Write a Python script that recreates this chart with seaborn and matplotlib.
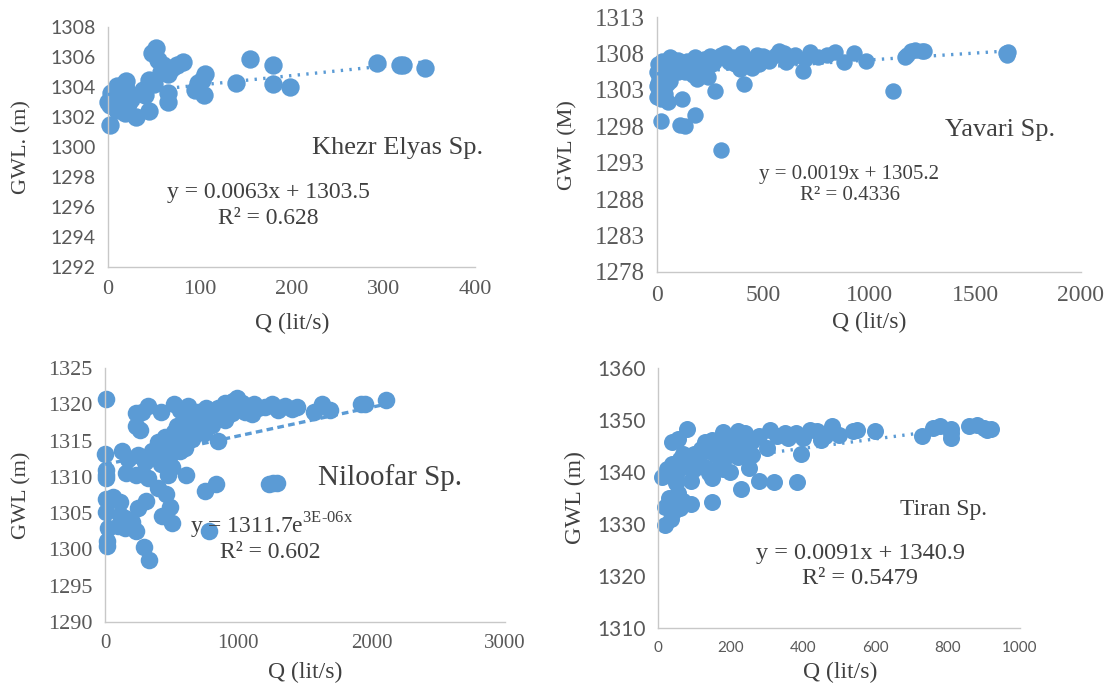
import numpy as np
import pandas as pd
import matplotlib.pyplot as plt
import seaborn as sns

# Khezr Elyas spring
kh_q = [2, 0, 2, 5, 8, 10, 12, 15, 18, 20, 22, 8, 13, 18, 20, 25, 3, 16, 10, 30,
        45, 38, 40, 45, 50, 48, 52, 55, 60, 58, 62, 65, 70, 75, 82, 65, 65, 95, 98, 102,
        106, 105, 140, 155, 180, 180, 198, 293, 318, 322, 345]
kh_gwl = [1301.5, 1303.0, 1302.8, 1303.3, 1303.8, 1304.1, 1303.5, 1302.6, 1304.3, 1303.9,
          1302.9, 1302.7, 1303.0, 1302.3, 1304.4, 1303.2, 1303.6, 1303.7, 1302.5, 1302.0,
          1302.4, 1303.8, 1303.5, 1304.5, 1304.2, 1306.3, 1306.6, 1305.8, 1305.5, 1305.0,
          1305.2, 1304.9, 1305.3, 1305.5, 1305.7, 1303.6, 1303.0, 1303.8, 1304.3, 1304.5,
          1304.9, 1303.5, 1304.3, 1305.9, 1305.5, 1304.2, 1304.0, 1305.6, 1305.5, 1305.5,
          1305.3]

# Yavari spring
yv_q = [0, 5, 10, 15, 20, 25, 30, 40, 40, 50, 60, 60, 70, 80, 90, 100, 110, 120, 130, 140,
        150, 160, 170, 180, 190, 200, 210, 220, 230, 240, 250, 260, 270, 280, 300, 320, 330,
        340, 360, 370, 390, 400, 410, 430, 450, 460, 470, 480, 500, 520, 530, 560, 575, 600,
        610, 640, 650, 690, 700, 720, 760, 800, 840, 880, 930, 985, 1115, 1170, 1180, 1200,
        1215, 1250, 1260, 1645, 1650, 1655, 0, 0, 10, 20, 30, 50, 40, 60, 120, 20, 110, 130,
        180, 300, 275, 15, 25, 5, 10, 30, 45, 70, 100, 20]
yv_gwl = [1305.5, 1304.0, 1306.0, 1305.5, 1305.0, 1307.0, 1304.5, 1306.8, 1306.0, 1305.5,
          1306.5, 1307.5, 1307.3, 1306.0, 1306.0, 1307.1, 1306.3, 1305.8, 1305.5, 1307.0,
          1306.5, 1306.2, 1305.0, 1307.5, 1304.5, 1306.8, 1305.8, 1307.2, 1306.2, 1304.8,
          1307.6, 1306.5, 1306.8, 1307.2, 1307.8, 1308.0, 1307.2, 1306.8, 1307.5, 1306.5,
          1305.8, 1308.0, 1303.8, 1307.0, 1306.0, 1307.2, 1307.8, 1306.5, 1307.6, 1307.4,
          1307.0, 1307.8, 1308.3, 1308.1, 1306.8, 1307.5, 1307.8, 1305.6, 1307.3, 1308.2,
          1307.5, 1307.8, 1308.2, 1306.8, 1308.0, 1307.0, 1302.9, 1307.5, 1307.8, 1308.4,
          1308.5, 1308.4, 1308.3, 1308.0, 1307.8, 1308.2, 1303.5, 1302.0, 1302.8, 1301.8,
          1303.2, 1301.4, 1302.5, 1304.2, 1301.8, 1298.7, 1298.2, 1298.0, 1299.5, 1294.8,
          1302.9, 1306.5, 1305.8, 1306.5, 1304.8, 1306.2, 1303.8, 1305.2, 1305.5, 1303.5]

# Niloofar spring
nl_q = [5, 2, 5, 5, 5, 10, 60, 40, 110, 5, 110, 150, 200, 100, 20, 150, 230, 15, 15, 290,
        330, 310, 250, 430, 490, 500, 400, 460, 780, 750, 830, 1230, 1260, 1290, 160, 230,
        320, 470, 500, 610, 130, 170, 250, 300, 350, 400, 430, 450, 500, 520, 550, 580, 600,
        650, 700, 720, 760, 800, 850, 870, 900, 950, 230, 260, 230, 280, 320, 420, 520, 560,
        620, 700, 760, 850, 900, 960, 990, 1000, 1050, 1100, 1150, 1200, 1250, 1300, 1350,
        1400, 1440, 1570, 1630, 1690, 1920, 1950, 2110, 380, 460, 560, 620, 680, 420, 340,
        480, 540, 640, 740, 810, 1030, 1120]
nl_gwl = [1320.7, 1313.2, 1311.0, 1310.3, 1309.8, 1307.0, 1307.2, 1306.8, 1306.5, 1305.2,
          1304.8, 1304.3, 1303.8, 1303.2, 1303.0, 1303.0, 1302.5, 1301.2, 1300.5, 1300.4,
          1298.5, 1306.7, 1305.7, 1304.6, 1305.8, 1303.7, 1308.4, 1307.6, 1302.6, 1308.1,
          1309.0, 1309.0, 1309.1, 1309.1, 1310.5, 1310.3, 1309.8, 1310.2, 1311.3, 1310.3,
          1313.5, 1312.5, 1313.0, 1312.0, 1313.5, 1314.8, 1312.5, 1315.5, 1314.5, 1316.2,
          1315.3, 1316.8, 1314.0, 1315.2, 1316.5, 1317.5, 1318.0, 1317.2, 1315.0, 1318.5,
          1317.8, 1318.8, 1317.0, 1316.5, 1318.8, 1319.0, 1319.8, 1318.9, 1320.0, 1319.2,
          1319.8, 1319.0, 1319.5, 1319.5, 1320.2, 1320.5, 1320.8, 1319.8, 1319.0, 1318.7,
          1319.5, 1319.6, 1320.0, 1319.2, 1319.8, 1319.3, 1319.6, 1318.9, 1320.0, 1319.2,
          1320.0, 1320.1, 1320.6, 1313.0, 1313.8, 1313.5, 1317.5, 1318.2, 1311.8, 1312.8,
          1312.8, 1317.0, 1318.5, 1316.0, 1318.8, 1320.2, 1320.0]

# Tiran spring
tr_q = [20, 20, 30, 35, 45, 40, 60, 70, 90, 150, 55, 50, 10, 25, 40, 50, 60, 70, 80, 90,
        100, 110, 120, 130, 140, 150, 160, 170, 180, 190, 200, 220, 230, 250, 260, 280, 320,
        385, 395, 300, 40, 55, 80, 130, 150, 180, 200, 220, 240, 230, 280, 310, 330, 360,
        380, 400, 420, 440, 460, 480, 500, 540, 550, 600, 730, 760, 780, 810, 810, 810, 860,
        880, 900, 920, 910, 100, 140, 170, 210, 190, 260, 350, 450]
tr_gwl = [1329.8, 1333.2, 1335.0, 1331.0, 1332.5, 1334.5, 1333.0, 1334.5, 1333.8, 1334.2,
          1336.0, 1337.8, 1339.0, 1340.5, 1341.5, 1339.5, 1342.5, 1343.5, 1341.0, 1338.3,
          1340.5, 1342.0, 1344.5, 1341.0, 1339.8, 1338.8, 1343.2, 1341.5, 1340.5, 1343.0,
          1340.0, 1342.8, 1336.8, 1340.7, 1343.2, 1338.2, 1338.0, 1338.0, 1343.5, 1344.6,
          1345.8, 1346.3, 1348.3, 1345.8, 1346.2, 1347.7, 1346.5, 1347.8, 1347.5, 1345.2,
          1347.0, 1348.0, 1347.0, 1346.5, 1347.5, 1346.5, 1348.0, 1347.8, 1347.0, 1348.8,
          1347.2, 1347.8, 1348.0, 1347.8, 1347.0, 1348.5, 1348.8, 1348.2, 1346.5, 1347.5,
          1348.8, 1349.0, 1348.4, 1348.3, 1348.1, 1343.5, 1344.0, 1345.0, 1344.5, 1345.5,
          1346.0, 1347.5, 1346.2]

# trendline coefficients as printed on the charts
kh_fit = (0.0063, 1303.5)
yv_fit = (0.0019, 1305.2)
nl_fit = (1311.7, 3e-06)
tr_fit = (0.0091, 1340.9)

BLUE = "#5B9BD5"
TICK = "#595959"
TXT = "#404040"
SERIF = "Liberation Serif"
SANS = "Lato"

sns.set_theme(style="white")
plt.rcParams["font.family"] = [SERIF, "DejaVu Sans"]
plt.rcParams["mathtext.fontset"] = "custom"
plt.rcParams["mathtext.rm"] = SERIF

fig = plt.figure(figsize=(11.08, 6.86), dpi=100)
W, H = 1108, 686


def px_axes(l, t, r, b):
    return fig.add_axes([l / W, 1 - b / H, (r - l) / W, (b - t) / H])


def ftext(x, y, s, size, **kw):
    fig.text(x / W, 1 - y / H, s, fontsize=size, color=TXT, family=SERIF,
             ha=kw.pop("ha", "center"), va="center", **kw)


def panel(ax, q, gwl, size, xlim, xticks, yticks, yfont, xfont, ysize, xsize):
    df = pd.DataFrame({"Q": q, "GWL": gwl})
    sns.scatterplot(data=df, x="Q", y="GWL", ax=ax, color=BLUE, s=size,
                    linewidth=0, alpha=1, zorder=2, clip_on=False)
    ax.set_xlim(xlim)
    ax.set_ylim(yticks[0], yticks[-1])
    ax.set_xticks(xticks)
    ax.set_yticks(yticks)
    ax.set_xticklabels([str(t) for t in xticks], family=xfont, fontsize=xsize, color=TICK)
    ax.set_yticklabels([str(t) for t in yticks], family=yfont, fontsize=ysize, color=TICK)
    ax.set_xlabel("")
    ax.set_ylabel("")
    sns.despine(ax=ax)
    for sp in ["left", "bottom"]:
        ax.spines[sp].set_color("#c8c8c8")
        ax.spines[sp].set_linewidth(1.0)
    ax.tick_params(direction="out", length=5, width=1, color="#c8c8c8", pad=4)
    ax.set_facecolor("none")
    return df


def lin_trend(ax, df, fit, style):
    xs = np.array([min(df["Q"]), max(df["Q"])])
    line = pd.DataFrame({"Q": xs, "GWL": fit[0] * xs + fit[1]})
    sns.lineplot(data=line, x="Q", y="GWL", ax=ax, color=BLUE, lw=2.4,
                 linestyle=style, zorder=3)
    ax.set_xlabel("")
    ax.set_ylabel("")


dots = (0, (0.7, 1.9))

# panel 1
ax1 = px_axes(108, 27, 475, 267)
d1 = panel(ax1, kh_q, kh_gwl, 175, (0, 400), [0, 100, 200, 300, 400],
           list(range(1292, 1309, 2)), SANS, SERIF, 14, 16)
lin_trend(ax1, d1, kh_fit, dots)
ftext(22, 147, "GWL. (m)", 16, rotation=90)
ftext(292, 323, "Q (lit/s)", 17)
ftext(312, 148, "Khezr Elyas Sp.", 19, ha="left")
ftext(268, 193, "y = 0.0063x + 1303.5", 17)
ftext(268, 218, "R² = 0.628", 17)

# panel 2
ax2 = px_axes(657, 17, 1081, 272)
d2 = panel(ax2, yv_q, yv_gwl, 140, (0, 2000), [0, 500, 1000, 1500, 2000],
           list(range(1278, 1314, 5)), SERIF, SERIF, 18, 17)
lin_trend(ax2, d2, yv_fit, dots)
ftext(568, 145, "GWL (M)", 16, rotation=90)
ftext(869, 322, "Q (lit/s)", 17)
ftext(945, 130, "Yavari Sp.", 19, ha="left")
ftext(849, 175, "y = 0.0019x + 1305.2", 15)
ftext(850, 196, "R² = 0.4336", 15)

# panel 3
ax3 = px_axes(105, 368, 505, 622)
d3 = panel(ax3, nl_q, nl_gwl, 160, (0, 3000), [0, 1000, 2000, 3000],
           list(range(1290, 1326, 5)), SERIF, SERIF, 16, 15)
xs3 = np.linspace(min(nl_q), max(nl_q), 60)
curve = pd.DataFrame({"Q": xs3, "GWL": nl_fit[0] * np.exp(nl_fit[1] * xs3)})
sns.lineplot(data=curve, x="Q", y="GWL", ax=ax3, color=BLUE, lw=2.4,
             linestyle=(0, (2.0, 1.3)), zorder=3)
ax3.set_xlabel("")
ax3.set_ylabel("")
ftext(22, 495, "GWL (m)", 16, rotation=90)
ftext(305, 672, "Q (lit/s)", 17)
ftext(318, 478, "Niloofar Sp.", 21, ha="left")
ftext(272, 526, "y = 1311.7e$^{\\mathregular{3E\\text{-}06x}}$", 17)
ftext(270, 553, "R² = 0.602", 17)

# panel 4
ax4 = px_axes(658, 368, 1020, 628)
d4 = panel(ax4, tr_q, tr_gwl, 150, (0, 1000), [0, 200, 400, 600, 800, 1000],
           list(range(1310, 1361, 10)), SANS, SANS, 15, 11)
lin_trend(ax4, d4, tr_fit, dots)
ftext(575, 498, "GWL (m)", 17, rotation=90)
ftext(840, 672, "Q (lit/s)", 17)
ftext(900, 510, "Tiran Sp.", 17, ha="left")
ftext(860, 553, "y = 0.0091x + 1340.9", 17.5)
ftext(860, 578, "R² = 0.5479", 17.5)

fig.savefig("out.png", dpi=100, facecolor="white")
